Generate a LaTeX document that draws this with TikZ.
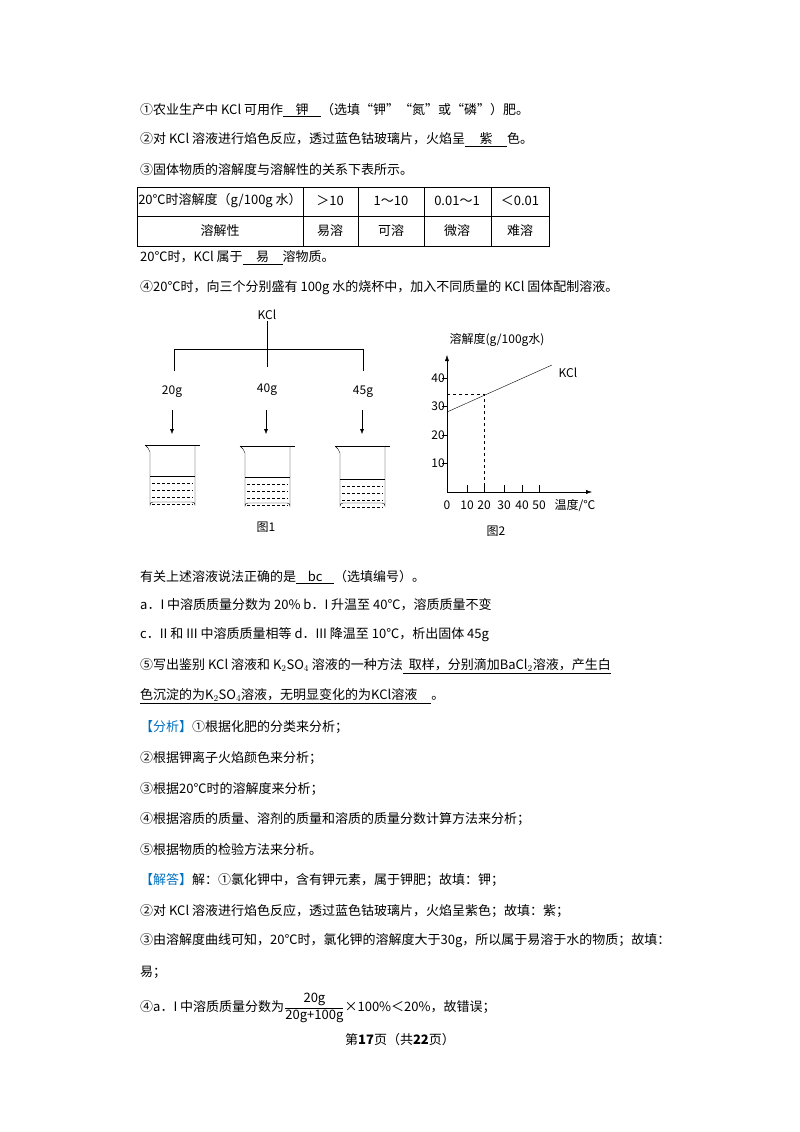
\documentclass[tikz,border=0pt]{standalone}
\usepackage{fontspec}
\setmainfont{Noto Sans CJK SC}
\usetikzlibrary{positioning,arrows.meta}
\definecolor{tagblue}{RGB}{0,112,192}
\newcommand{\blank}[2]{\underline{\makebox[#1]{#2}}}
\newcommand{\drawbeaker}[3]{% left x, top y, liquid y
  \draw (#1,#2) -- ++(55,0);
  \draw (#1,#2) -- ++(3,3) -- ++(2,4) -- ++(0,53) arc[start angle=180,end angle=270,radius=3] -- ++(39,0) arc[start angle=270,end angle=360,radius=3] -- ++(0,-60);
  \draw (#1+5,#3) -- (#1+50,#3);
  \foreach \dy in {7,14,21,28}
    \draw[dash pattern=on 3pt off 2pt] (#1+7,#3+\dy) -- (#1+48,#3+\dy);
}
\tikzset{
  txt/.style={anchor=west, inner sep=0pt, font=\fontsize{13}{15}\selectfont},
  fig/.style={inner sep=1pt, font=\fontsize{12}{14}\selectfont},
  cell/.style={inner sep=0pt, font=\fontsize{13}{15}\selectfont}
}
\begin{document}
\begin{tikzpicture}[x=1pt,y=-1pt]
		\useasboundingbox[fill=white] (0,0) rectangle (800,1132);
		
		%Text lines
		\node (lineA) at (140,110) [txt]{①农业生产中 KCl 可用作\blank{38pt}{钾}（选填“钾”“氮”或“磷”）肥。};
		\node (lineB) at (140,140) [txt]{②对 KCl 溶液进行焰色反应，透过蓝色钴玻璃片，火焰呈\blank{42pt}{紫}色。};
		\node (lineC) at (140,170) [txt]{③固体物质的溶解度与溶解性的关系下表所示。};
		
		%Table
		\draw (137,187) rectangle (549,246);
		\draw (137,216) -- (549,216);
		\foreach \cx in {303,358,424,491}
		\draw (\cx,187) -- (\cx,246);
		\node (headA) at (220,201) [cell]{20℃时溶解度（g/100g 水）};
		\node (headB) at (330,201) [cell]{＞10};
		\node (headC) at (391,201) [cell]{1～10};
		\node (headD) at (457,201) [cell]{0.01～1};
		\node (headE) at (520,201) [cell]{＜0.01};
		\node (rowA) at (220,231) [cell]{溶解性};
		\node (rowB) at (330,231) [cell]{易溶};
		\node (rowC) at (391,231) [cell]{可溶};
		\node (rowD) at (457,231) [cell]{微溶};
		\node (rowE) at (520,231) [cell]{难溶};
		
		\node (lineD) at (140,258) [txt]{20℃时，KCl 属于\blank{40pt}{易}溶物质。};
		\node (lineE) at (140,288) [txt]{④20℃时，向三个分别盛有 100g 水的烧杯中，加入不同质量的 KCl 固体配制溶液。};
		
		%Figure 1
		\node (kcl) at (267,315) [fig]{KCl};
		\draw (kcl.south) -- (267,367);
		\draw (174,371) -- (174,349) -- (363,349) -- (363,371);
		\node (massA) at (172,392) [fig]{20g};
		\node (massB) at (267,390) [fig]{40g};
		\node (massC) at (363,392) [fig]{45g};
		\coordinate (cupA) at (172,434);
		\coordinate (cupB) at (266,434);
		\coordinate (cupC) at (362,434);
		\draw[-{Latex[length=5pt,width=4pt]}] (172,410) -- (cupA);
		\draw[-{Latex[length=5pt,width=4pt]}] (266,410) -- (cupB);
		\draw[-{Latex[length=5pt,width=4pt]}] (362,410) -- (cupC);
		\drawbeaker{145}{445}{476}
		\drawbeaker{240}{446}{477}
		\drawbeaker{335}{446}{479}
		\node (capA) at (266,527) [fig]{图1};
		
		%Figure 2
		\coordinate (origin) at (447,492);
		\coordinate (yend) at (447,355);
		\coordinate (xend) at (592,492);
		\draw[-{Latex[length=6pt,width=4pt]}] (origin) -- (yend);
		\draw[-{Latex[length=6pt,width=4pt]}] (origin) -- (xend);
		\foreach \v/\py in {10/463.5,20/435,30/406,40/378}
		\draw (442,\py) -- (447,\py) node[left=1pt,fig]{\v};
		\foreach \v/\px in {10/467,20/484,30/504,40/522,50/539}
		{\draw (\px,492) -- (\px,485);
		\node at (\px,505) [fig]{\v};}
		\node (zero) at (447,505) [fig]{0};
		\node (ylab) at (497,340) [fig]{溶解度(g/100g水)};
		\node (xlab) at (575,505) [fig]{温度/℃};
		\coordinate (curveA) at (447,412);
		\coordinate (curveB) at (552,365);
		\draw (curveA) -- (curveB);
		\node (kcltag) at (568,373) [fig]{KCl};
		\draw[dashed] (447,394) -- (484,394) -- (484,492);
		\node (capB) at (496,531) [fig]{图2};
		
		%Text below the figures
		\node (lineF) at (140,577) [txt]{有关上述溶液说法正确的是\blank{38pt}{bc}（选填编号）。};
		\node (lineG) at (140,605) [txt]{a．I 中溶质质量分数为 20\% b．I 升温至 40℃，溶质质量不变};
		\node (lineH) at (140,635) [txt]{c．II 和 III 中溶质质量相等 d．III 降温至 10℃，析出固体 45g};
		\node (lineI) at (140,666) [txt]{⑤写出鉴别 KCl 溶液和 K$_2$SO$_4$ 溶液的一种方法\underline{\ \ 取样，分别滴加BaCl$_2$溶液，产生白}};
		\node (lineJ) at (140,696) [txt]{\underline{色沉淀的为K$_2$SO$_4$溶液，无明显变化的为KCl溶液\hspace{14pt}}。};
		\node (lineK) at (140,727) [txt]{\textcolor{tagblue}{【分析】}①根据化肥的分类来分析；};
		\node (lineL) at (140,758) [txt]{②根据钾离子火焰颜色来分析；};
		\node (lineM) at (140,789) [txt]{③根据20℃时的溶解度来分析；};
		\node (lineN) at (140,819) [txt]{④根据溶质的质量、溶剂的质量和溶质的质量分数计算方法来分析；};
		\node (lineO) at (140,850) [txt]{⑤根据物质的检验方法来分析。};
		\node (lineP) at (140,880) [txt]{\textcolor{tagblue}{【解答】}解：①氯化钾中，含有钾元素，属于钾肥；故填：钾；};
		\node (lineQ) at (140,911) [txt]{②对 KCl 溶液进行焰色反应，透过蓝色钴玻璃片，火焰呈紫色；故填：紫；};
		\node (lineR) at (140,941) [txt]{③由溶解度曲线可知，20℃时，氯化钾的溶解度大于30g，所以属于易溶于水的物质；故填：};
		\node (lineS) at (140,972) [txt]{易；};
		\node (lineT) at (140,1008) [txt]{④a．I 中溶质质量分数为$\displaystyle\frac{\mbox{20g}}{\mbox{20g+100g}}$×100\%＜20\%，故错误；};
		\node (pageno) at (400,1040) [cell]{第\textbf{17}页（共\textbf{22}页）};
\end{tikzpicture}
\end{document}
